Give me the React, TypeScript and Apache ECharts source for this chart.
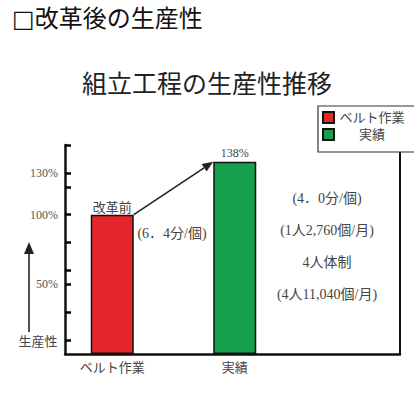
import React, { useEffect, useRef } from "react";
import * as echarts from "echarts";

const categories = ["ベルト作業", "実績"];
const values = [100, 138];
const barColors = ["#e5262b", "#17a04c"];
const tickValues = [10, 30, 50, 60, 80, 100, 120, 130, 150];
const labelValues = [50, 100, 130];
const topLabelFirst = "改革前";
const noteLeft = "(6．4分/個)";
const noteRight = ["(4．0分/個)", "(1人2,760個/月)", "4人体制", "(4人11,040個/月)"];
const header = "□改革後の生産性";
const titleText = "組立工程の生産性推移";
const yName = "生産性";

const SERIF = "'Liberation Serif','DejaVu Serif','Noto Sans CJK JP',serif";
const SANS = "'Noto Sans CJK JP','Noto Sans',sans-serif";
const HEADER_FONT = "'DejaVu Sans','Noto Sans CJK JP',sans-serif";
const BAR_W = 43;

export default function App() {
  const ref = useRef<HTMLDivElement>(null);
  useEffect(() => {
    document.body.style.margin = "0";
    const chart = echarts.init(ref.current!, null, { renderer: "svg" });
    const option: any = {
      animation: false,
      backgroundColor: "#ffffff",
      title: {
        text: titleText,
        left: "center",
        top: 64,
        textStyle: { fontFamily: SANS, fontSize: 25, fontWeight: "normal", color: "#222" },
      },
      legend: {
        data: categories,
        orient: "vertical",
        left: 322,
        top: 111,
        itemWidth: 11,
        itemHeight: 11,
        itemGap: 4,
        icon: "rect",
        z: 10,
        padding: 0,
        formatter: (name: string) => `{t|${name}}`,
        textStyle: {
          fontFamily: SERIF,
          fontSize: 13,
          color: "#444",
          rich: { t: { width: 66, align: "center", fontFamily: SERIF, fontSize: 13, color: "#444" } },
        },
      },
      grid: [
        { left: 65, right: 14, top: 145, bottom: 51 },
        { left: 51, width: 245, top: 145, bottom: 51 },
      ],
      xAxis: [
        {
          type: "category",
          gridIndex: 0,
          data: [""],
          axisLine: { show: true, lineStyle: { color: "#111", width: 2.5 } },
          axisTick: { show: false },
          axisLabel: { show: false },
        },
        {
          type: "category",
          gridIndex: 1,
          data: categories,
          axisLine: { show: false },
          axisTick: { show: false },
          axisLabel: { margin: 7, fontFamily: SERIF, fontSize: 13, color: "#444" },
        },
      ],
      yAxis: [
        {
          type: "value",
          gridIndex: 0,
          min: 0,
          max: 150,
          axisLine: { show: true, lineStyle: { color: "#111", width: 2.5 } },
          axisTick: {
            show: true,
            inside: true,
            length: 6,
            customValues: tickValues,
            lineStyle: { color: "#000", width: 2.5 },
          },
          axisLabel: {
            customValues: labelValues,
            formatter: "{value}%",
            margin: 7,
            fontFamily: SERIF,
            fontSize: 12,
            color: "#555",
          },
          splitLine: { show: false },
        },
        {
          type: "value",
          gridIndex: 0,
          position: "right",
          min: 0,
          max: 150,
          axisLine: { show: true, lineStyle: { color: "#111", width: 2 } },
          axisTick: { show: false },
          axisLabel: { show: false },
          splitLine: { show: false },
        },
        { type: "value", gridIndex: 1, min: 0, max: 150, show: false },
      ],
      series: categories.map((name, i) => ({
        type: "bar",
        name,
        xAxisIndex: 1,
        yAxisIndex: 2,
        barWidth: BAR_W,
        barGap: "-100%",
        data: values.map((v, j) => (j === i ? v : "-")),
        itemStyle: { color: barColors[i], borderColor: "#111", borderWidth: 1.5 },
        label: {
          show: true,
          position: "top",
          distance: i === 0 ? 1 : 3,
          formatter: (p: any) => (p.dataIndex === 0 ? topLabelFirst : `${p.value}%`),
          fontFamily: SERIF,
          fontSize: i === 0 ? 13 : 12,
          color: "#444",
        },
      })),
    };
    chart.setOption(option);

    const p1 = chart.convertToPixel({ xAxisIndex: 1, yAxisIndex: 2 }, [0, values[0]]) as number[];
    const p2 = chart.convertToPixel({ xAxisIndex: 1, yAxisIndex: 2 }, [1, values[1]]) as number[];
    const sx = p1[0] + BAR_W / 2;
    const sy = p1[1];
    const tx = p2[0] - BAR_W / 2;
    const ty = p2[1];
    const len = Math.hypot(tx - sx, ty - sy);
    const dx = (tx - sx) / len;
    const dy = (ty - sy) / len;
    const hl = 11;
    const hw = 4.5;
    const bx = tx - dx * hl;
    const by = ty - dy * hl;

    const textStyle = (x: number, y: number, text: string, size = 14) => ({
      type: "text",
      x,
      y,
      style: { text, fontFamily: SERIF, fontSize: size, fill: "#444", align: "center", verticalAlign: "middle" },
    });

    const graphic: any[] = [
      {
        type: "text",
        x: 12,
        y: 19,
        style: { text: header, fontFamily: HEADER_FONT, fontSize: 24, fill: "#111", verticalAlign: "middle" },
      },
      {
        type: "rect",
        z: 5,
        shape: { x: 318, y: 106, width: 110, height: 46 },
        style: { fill: "#fff", stroke: "#333", lineWidth: 1.2 },
      },
      {
        type: "line",
        z: 6,
        shape: { x1: sx, y1: sy, x2: bx, y2: by },
        style: { stroke: "#222", lineWidth: 1.6 },
      },
      {
        type: "polygon",
        z: 6,
        shape: {
          points: [
            [tx, ty],
            [bx - dy * hw, by + dx * hw],
            [bx + dy * hw, by - dx * hw],
          ],
        },
        style: { fill: "#222" },
      },
      {
        type: "line",
        shape: { x1: 29, y1: 332, x2: 29, y2: 252 },
        style: { stroke: "#222", lineWidth: 1.6 },
      },
      {
        type: "polygon",
        shape: { points: [[29, 242], [24, 254], [34, 254]] },
        style: { fill: "#222" },
      },
      textStyle(38, 341, yName, 13),
      textStyle(172, 233, noteLeft, 14),
      ...noteRight.map((t, i) => textStyle(327, 198 + i * 32, t, 14)),
    ];
    chart.setOption({ graphic });

    return () => chart.dispose();
  }, []);
  return <div ref={ref} style={{ width: 414, height: 405 }} />;
}
